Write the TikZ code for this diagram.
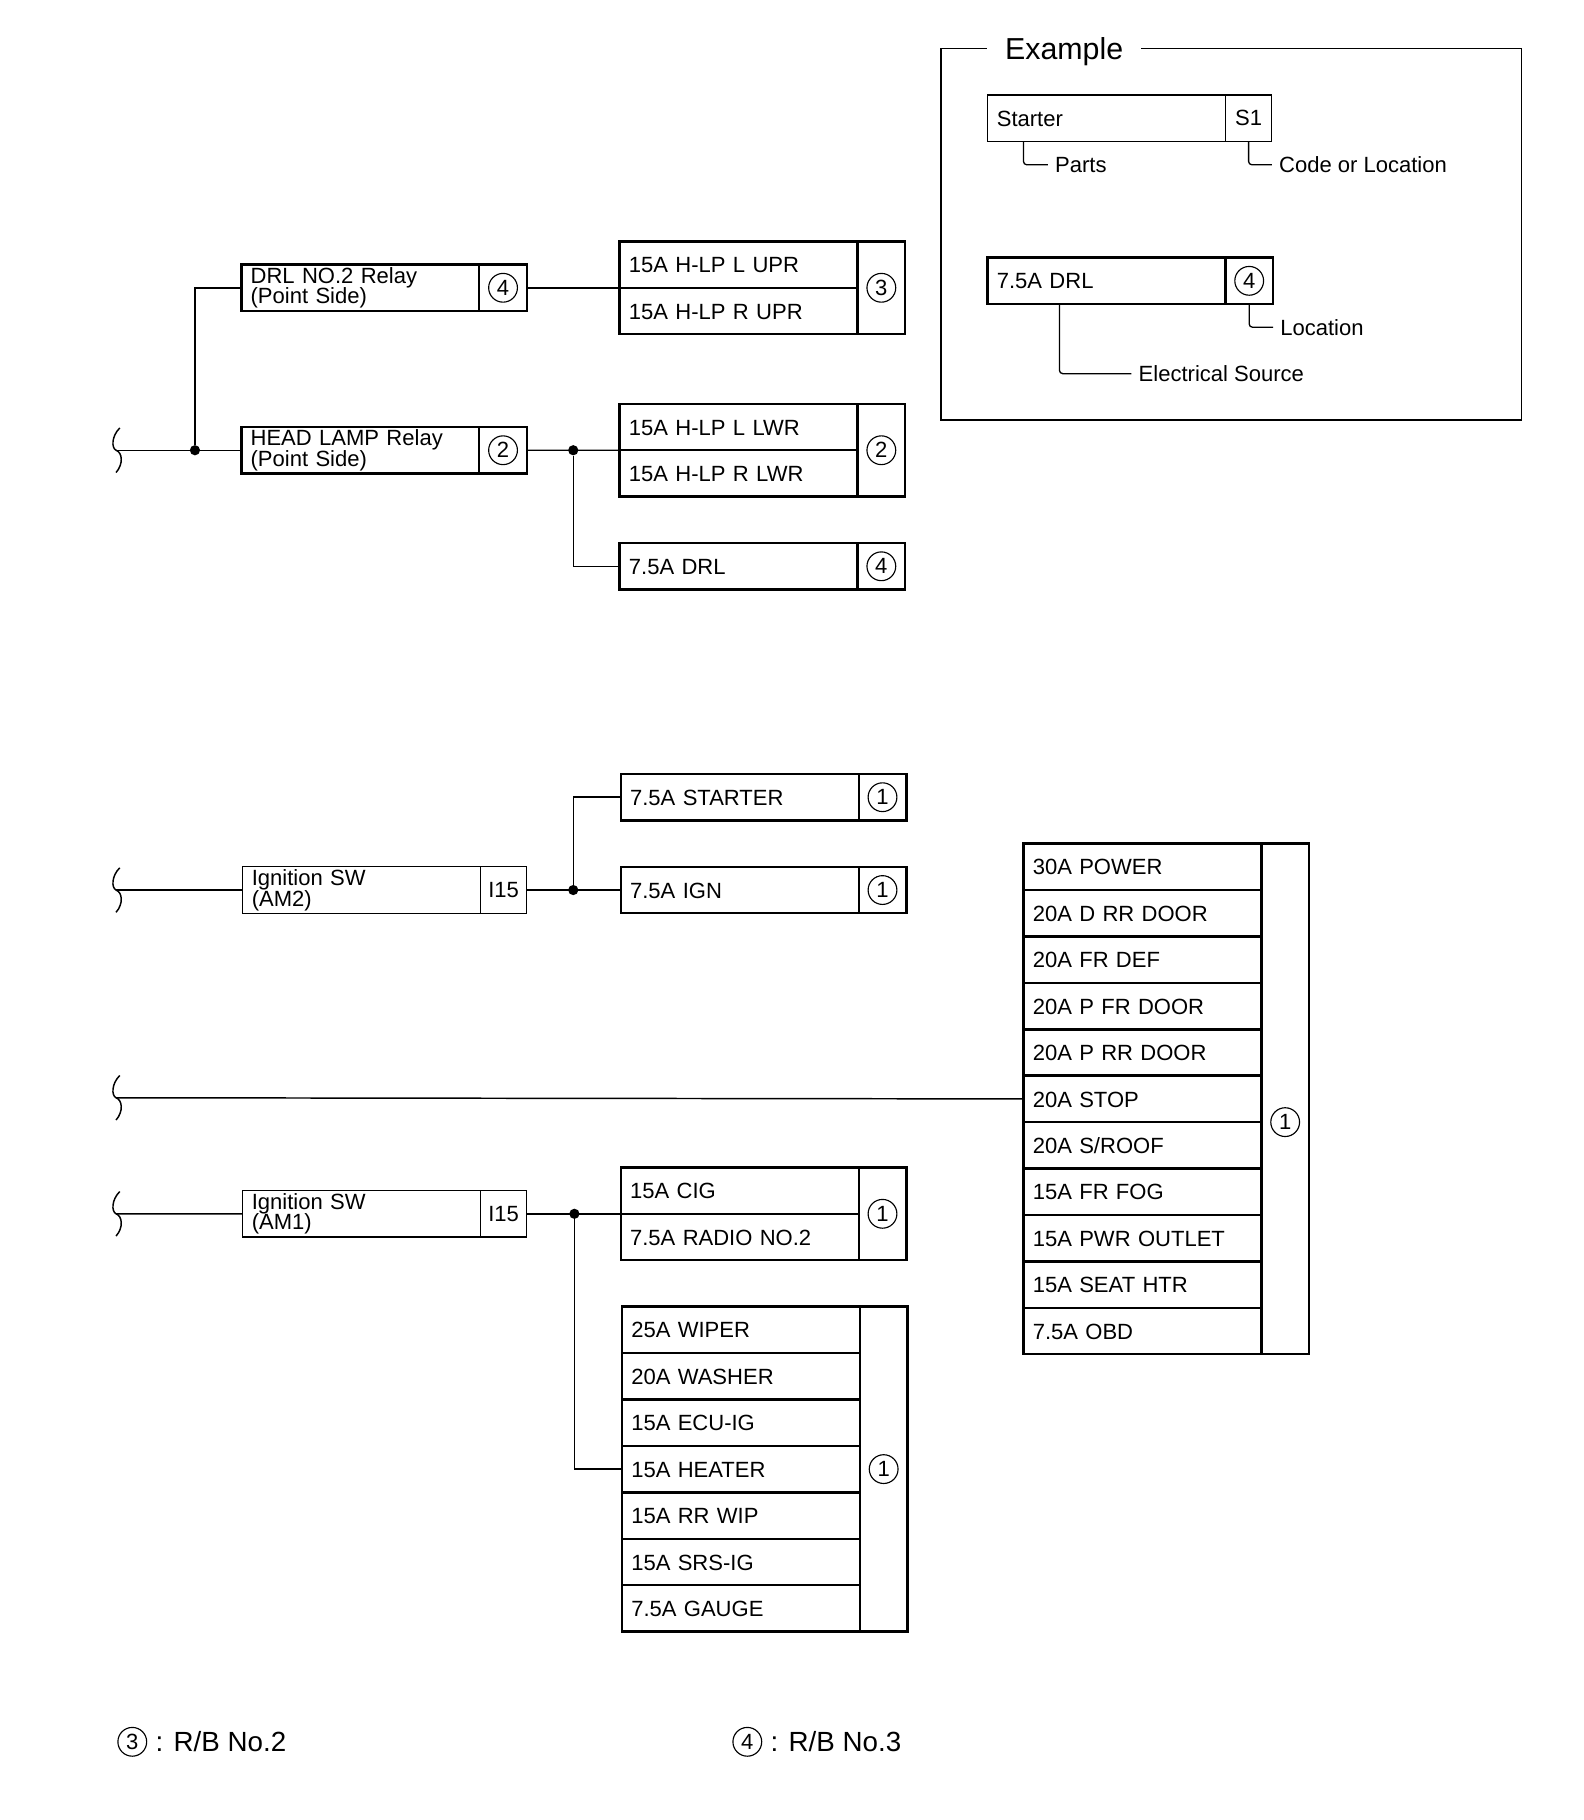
\documentclass[tikz,border=0pt]{standalone}
\usepackage{fontspec}
\setmainfont{Liberation Sans}
\usetikzlibrary{positioning,calc}
\tikzset{
  cellbox/.style={draw, rectangle, anchor=north west, outer sep=0pt, inner ysep=0pt, inner xsep=0.2cm, align=left,
    text width=4.725cm, minimum height=1cm, font=\fontsize{13.5}{12.6}\selectfont},
  fusebox/.style={cellbox, line width=1.5pt, text height=0.35cm, text depth=0cm},
  relaybox/.style={cellbox, line width=1.5pt},
  partbox/.style={cellbox, line width=0.8pt, text height=0.35cm, text depth=0cm},
  switchbox/.style={cellbox, line width=0.8pt},
  codebox/.style={draw, rectangle, anchor=north west, outer sep=0pt, inner sep=0pt, align=center, text width=1.025cm,
    minimum height=1cm, line width=1.5pt, font=\fontsize{13.5}{14}\selectfont},
  thincode/.style={codebox, line width=0.8pt},
  circnum/.style={draw, circle, line width=0.7pt, inner sep=0pt, minimum size=0.62cm, font=\fontsize{13.5}{14}\selectfont},
  dot/.style={fill, circle, inner sep=0pt, minimum size=0.22cm},
  wire/.style={line width=0.9pt},
  leader/.style={line width=0.8pt, rounded corners=2pt},
  plainlabel/.style={anchor=west, inner ysep=0pt, inner xsep=0.15cm, text height=0.35cm, text depth=0cm, font=\fontsize{13.5}{14}\selectfont},
  footlabel/.style={inner ysep=0pt, inner xsep=0.175cm, font=\fontsize{17}{18}\selectfont}
}
% wire cut mark, drawn round a named coordinate
\newcommand{\cutmark}[1]{
  \draw[wire] ($(#1)+(0.08,0.48)$) .. controls ($(#1)+(-0.1,0.3)$) and ($(#1)+(-0.1,0.05)$) .. ($(#1)+(0,0)$)
    .. controls ($(#1)+(0.14,-0.05)$) and ($(#1)+(0.16,-0.3)$) .. ($(#1)+(0,-0.48)$);
}
\begin{document}
\begin{tikzpicture}
    \useasboundingbox (0,0) rectangle (34.125,-39.21);

    % Example frame
    \node[text height=0.47cm, text depth=0cm, inner ysep=0pt, inner xsep=0.38cm, font=\fontsize{18.6}{20}\selectfont] (exlabel) at (22.925,-1.05) {Example};
    \draw[line width=0.8pt] (exlabel.east) -- (32.775,-1.05) -- (32.775,-9.05) -- (20.275,-9.05) -- (20.275,-1.05) -- (exlabel.west);

    % Example boxes
    \node[partbox] (starter) at (21.275,-2.05) {Starter};
    \node[thincode, text width=1cm] (startercode) at (starter.north east) {S1};
    \node[plainlabel] (parts) at (22.575,-3.55) {Parts};
    \node[plainlabel] (codeloc) at (27.4,-3.55) {Code or Location};
    \draw[leader] ([xshift=0.775cm]starter.south west) |- (parts.west);
    \draw[leader] (startercode.south) |- (codeloc.west);

    \node[fusebox] (exdrl) at (21.275,-5.55) {7.5A DRL};
    \node[codebox] (exdrlcode) at (exdrl.north east) {};
    \node[circnum] (exdrlnum) at (exdrlcode.center) {4};
    \node[plainlabel] (location) at (27.425,-7.05) {Location};
    \node[plainlabel] (source) at (24.375,-8.05) {Electrical Source};
    \draw[leader] (exdrlcode.south) |- (location.west);
    \draw[leader] ([xshift=1.55cm]exdrl.south west) |- (source.west);

    % Relay group
    \node[relaybox] (drlrelay) at (5.2,-5.7) {DRL NO.2 Relay\\(Point Side)};
    \node[codebox] (drlrelaycode) at (drlrelay.north east) {};
    \node[circnum] (drlrelaynum) at (drlrelaycode.center) {4};
    \node[relaybox] (headrelay) at (5.2,-9.2) {HEAD LAMP Relay\\(Point Side)};
    \node[codebox] (headrelaycode) at (headrelay.north east) {};
    \node[circnum] (headrelaynum) at (headrelaycode.center) {2};

    \node[fusebox] (upl) at (13.35,-5.2) {15A H-LP L UPR};
    \node[fusebox] (upr) at (13.35,-6.2) {15A H-LP R UPR};
    \node[codebox, minimum height=2cm] (upcode) at (upl.north east) {};
    \node[circnum] (upnum) at (upcode.center) {3};
    \node[fusebox] (lwl) at (13.35,-8.7) {15A H-LP L LWR};
    \node[fusebox] (lwr) at (13.35,-9.7) {15A H-LP R LWR};
    \node[codebox, minimum height=2cm] (lwcode) at (lwl.north east) {};
    \node[circnum] (lwnum) at (lwcode.center) {2};
    \node[fusebox] (drl) at (13.35,-11.7) {7.5A DRL};
    \node[codebox] (drlcode) at (drl.north east) {};
    \node[circnum] (drlnum) at (drlcode.center) {4};

    \coordinate (cuta) at (2.5,-9.7);
    \cutmark{cuta}
    \node[dot] (joina) at (4.2,-9.7) {};
    \node[dot] (joinb) at (12.35,-9.7) {};
    \draw[wire] (cuta) -- (headrelay.west);
    \draw[wire] (joina) |- (drlrelay.west);
    \draw[wire] (drlrelaycode.east) -- (upl.south west);
    \draw[wire] (headrelaycode.east) -- (lwl.south west);
    \draw[wire] (joinb) |- (drl.west);

    % Ignition SW (AM2)
    \node[switchbox] (amtwo) at (5.225,-18.675) {Ignition SW\\(AM2)};
    \node[thincode, text width=1cm] (amtwocode) at (amtwo.north east) {I15};
    \node[fusebox] (starterfuse) at (13.375,-16.675) {7.5A STARTER};
    \node[codebox] (starterfusecode) at (starterfuse.north east) {};
    \node[circnum] (starterfusenum) at (starterfusecode.center) {1};
    \node[fusebox] (ign) at (13.375,-18.675) {7.5A IGN};
    \node[codebox] (igncode) at (ign.north east) {};
    \node[circnum] (ignnum) at (igncode.center) {1};

    \coordinate (cutb) at (2.5,-19.175);
    \cutmark{cutb}
    \node[dot] (joinc) at (12.35,-19.175) {};
    \draw[wire] (cutb) -- (amtwo.west);
    \draw[wire] (amtwocode.east) -- (ign.west);
    \draw[wire] (joinc) |- (starterfuse.west);

    % Long stack on the right
    \foreach \txt [count=\i] in {30A POWER,20A D RR DOOR,20A FR DEF,20A P FR DOOR,20A P RR DOOR,20A STOP,20A S/ROOF,15A FR FOG,15A PWR OUTLET,15A SEAT HTR,7.5A OBD}
        \node[fusebox] (longrow\i) at (22.05,-17.175-\i) {\txt};
    \node[codebox, minimum height=11cm] (longcode) at (longrow1.north east) {};
    \node[circnum] (longnum) at ($(longcode.center)+(0,-0.5)$) {1};
    \coordinate (cutc) at (2.5,-23.65);
    \cutmark{cutc}
    \draw[wire] (cutc) -- (longrow6.west);

    % Ignition SW (AM1)
    \node[switchbox] (amone) at (5.225,-25.65) {Ignition SW\\(AM1)};
    \node[thincode, text width=1cm] (amonecode) at (amone.north east) {I15};
    \node[fusebox] (cig) at (13.375,-25.15) {15A CIG};
    \node[fusebox] (radio) at (13.375,-26.15) {7.5A RADIO NO.2};
    \node[codebox, minimum height=2cm] (cigcode) at (cig.north east) {};
    \node[circnum] (cignum) at (cigcode.center) {1};

    \foreach \txt [count=\i] in {25A WIPER,20A WASHER,15A ECU-IG,15A HEATER,15A RR WIP,15A SRS-IG,7.5A GAUGE}
        \node[fusebox] (lowrow\i) at (13.4,-27.15-\i) {\txt};
    \node[codebox, minimum height=7cm] (lowcode) at (lowrow1.north east) {};
    \node[circnum] (lownum) at (lowcode.center) {1};

    \coordinate (cutd) at (2.5,-26.15);
    \cutmark{cutd}
    \node[dot] (joind) at (12.375,-26.15) {};
    \draw[wire] (cutd) -- (amone.west);
    \draw[wire] (amonecode.east) -- (cig.south west);
    \draw[wire] (joind) |- (lowrow4.west);

    % Footnotes
    \node[circnum] (foota) at (2.85,-37.525) {3};
    \node[footlabel, right=0pt of foota] (footatext) {: R/B No.2};
    \node[circnum] (footb) at (16.1,-37.525) {4};
    \node[footlabel, right=0pt of footb] (footbtext) {: R/B No.3};
\end{tikzpicture}
\end{document}
